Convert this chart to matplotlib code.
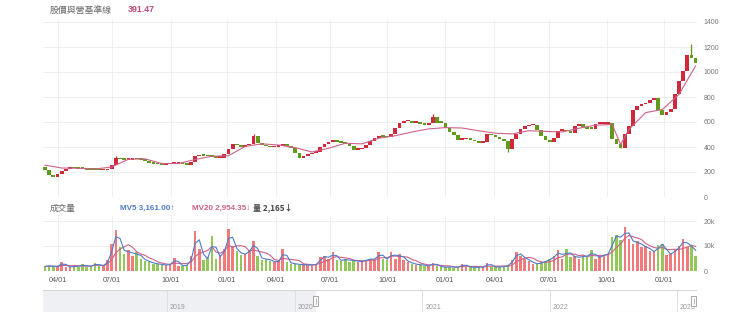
"""Candlestick price + volume panel with a range navigator strip (Mar 2020 - Feb 2023)."""

import matplotlib.pyplot as plt
import matplotlib.dates as mdates
import numpy as np
import pandas as pd
from matplotlib.patches import Rectangle

close = [
    220, 180, 165, 185, 210, 230, 236, 234, 230, 228,
    224, 222, 220, 218, 218, 228, 262, 320, 306, 300,
    302, 308, 306, 300, 296, 278, 270, 266, 264, 266,
    268, 270, 272, 266, 264, 286, 330, 340, 336, 330,
    328, 320, 320, 345, 390, 432, 418, 408, 418, 432,
    496, 440, 418, 410, 402, 405, 415, 432, 410, 395,
    360, 320, 335, 346, 355, 365, 405, 428, 445, 448,
    444, 440, 430, 410, 380, 385, 395, 420, 450, 475,
    495, 488, 482, 512, 560, 600, 610, 612, 596, 608,
    585, 580, 600, 645, 600, 595, 560, 522, 500, 460,
    466, 472, 462, 450, 440, 445, 512, 498, 485, 470,
    452, 390, 472, 510, 545, 570, 578, 584, 540, 490,
    458, 445, 480, 536, 536, 530, 520, 570, 585, 562,
    550, 548, 592, 592, 592, 598, 470, 430, 400, 510,
    570, 700, 730, 745, 760, 780, 800, 700, 660, 685,
    712, 830, 930, 1010, 1140, 1120, 1080,
]
first_open = 245
# notable wick extremes (bar index -> price)
wick_extremes = {17: 328, 50: 505, 93: 662, 111: 362, 138: 392, 155: 1225}

# pink baseline line, sampled every few bars
baseline_idx = [0, 4, 8, 12, 16, 20, 24, 28, 32, 36, 40, 44, 48, 52, 56, 60, 64,
                68, 72, 76, 80, 84, 88, 92, 96, 100, 104, 108, 112, 116, 120, 124,
                128, 132, 136, 138, 140, 144, 148, 152, 156]
baseline = [255, 232, 230, 224, 240, 302, 305, 268, 268, 300, 326, 330, 405, 425,
            416, 395, 360, 390, 430, 425, 470, 490, 520, 545, 555, 552, 530, 510,
            505, 530, 525, 520, 550, 575, 580, 420, 540, 675, 700, 820, 1050]

# volume in thousands of shares
volume_k = [
    1.8, 2.2, 1.6, 2.0, 3.5, 1.8, 1.5, 2.1, 1.7, 2.8,
    1.6, 2.0, 3.2, 1.9, 2.4, 4.5, 11.0, 16.5, 9.5, 7.0,
    8.5, 6.0, 7.5, 5.0, 4.2, 3.5, 3.0, 2.8, 2.5, 2.3,
    2.8, 5.4, 2.2, 2.0, 2.4, 6.0, 16.0, 9.0, 4.5, 5.5,
    14.0, 5.0, 6.5, 9.0, 17.0, 10.0, 8.0, 6.5, 7.0, 8.5,
    12.0, 6.0, 4.5, 5.0, 4.0, 3.5, 4.0, 9.0, 3.5, 3.0,
    2.8, 2.5, 2.6, 2.4, 2.2, 3.0, 5.5, 6.0, 5.0, 7.7,
    4.5, 4.0, 5.0, 3.8, 4.5, 3.5, 4.0, 4.5, 5.0, 4.5,
    7.7, 5.0, 4.5, 7.7, 5.0, 7.0, 4.5, 3.5, 3.0, 2.5,
    2.5, 2.2, 2.0, 3.3, 2.0, 1.6, 1.5, 1.8, 1.4, 1.6,
    2.8, 1.8, 1.5, 1.4, 1.6, 1.5, 3.3, 1.8, 1.5, 1.7,
    1.8, 2.5, 4.5, 7.7, 6.0, 5.0, 4.0, 3.0, 2.8, 3.5,
    4.0, 5.0, 6.0, 8.3, 5.0, 9.0, 5.5, 6.0, 5.0, 6.5,
    5.5, 8.3, 5.0, 6.0, 6.5, 7.0, 13.5, 14.5, 12.5, 17.5,
    13.0, 11.0, 12.0, 9.5, 10.0, 8.0, 7.5, 10.5, 11.0, 6.5,
    7.0, 8.5, 10.0, 13.0, 9.5, 10.5, 6.0,
]

tick_dates = ["2020-04-01", "2020-07-01", "2020-10-01", "2021-01-01", "2021-04-01",
              "2021-07-01", "2021-10-01", "2022-01-01", "2022-04-01", "2022-07-01",
              "2022-10-01", "2023-01-01"]
nav_years = ["2019", "2020", "2021", "2022", "2023"]

# TWSE closures, so the x axis runs on trading days like the original
holidays = [
    "2020-04-02", "2020-04-03", "2020-05-01", "2020-06-25", "2020-06-26",
    "2020-10-01", "2020-10-02", "2020-10-09",
    "2021-01-01", "2021-02-08", "2021-02-09", "2021-02-10", "2021-02-11",
    "2021-02-12", "2021-02-15", "2021-02-16", "2021-03-01", "2021-04-02",
    "2021-04-05", "2021-04-30", "2021-06-14", "2021-09-20", "2021-09-21",
    "2021-10-11", "2021-12-31",
    "2022-01-27", "2022-01-28", "2022-01-31", "2022-02-01", "2022-02-02",
    "2022-02-03", "2022-02-04", "2022-02-28", "2022-04-04", "2022-04-05",
    "2022-05-02", "2022-06-03", "2022-09-09", "2022-10-10",
    "2023-01-02", "2023-01-18", "2023-01-19", "2023-01-20", "2023-01-23",
    "2023-01-24", "2023-01-25", "2023-01-26", "2023-01-27", "2023-02-27",
    "2023-02-28",
]
START = "2020-03-02"

RED, GREEN = "#cf2a3c", "#5f9a1c"
VRED, VGREEN = "#f07a7c", "#92c85a"
PINK, BLUE = "#d0608a", "#4d7cc9"
GRID = "#ededed"

plt.rcParams["font.family"] = ["Liberation Sans", "DejaVu Sans"]
CJK = ["Noto Sans CJK TC", "Liberation Sans", "DejaVu Sans"]


def tpos(d):
    return np.busday_count(START, d, holidays=holidays)


W, H = 740, 324
fig = plt.figure(figsize=(W / 100, H / 100), dpi=100)


def box(x0, y0, x1, y1):
    return [x0 / W, 1 - y1 / H, (x1 - x0) / W, (y1 - y0) / H]


ax_p = fig.add_axes(box(43, 20, 697, 197))
ax_v = fig.add_axes(box(43, 215, 697, 271), sharex=ax_p)
ax_n = fig.add_axes(box(43, 290, 697, 312))

close = np.array(close, dtype=float)
n = len(close)
x_left, x_right = tpos("2020-03-09"), tpos("2023-03-09")
xs = np.linspace(x_left + 2.2, x_right - 1.5, n)
step = xs[1] - xs[0]
opens = np.r_[first_open, close[:-1]]
up = close >= opens

# candles
lo = np.minimum(opens, close)
hi = np.maximum(opens, close)
ax_p.bar(xs, np.maximum(hi - lo, 14), bottom=lo - 4, width=step * 0.9,
         color=np.where(up, RED, GREEN), linewidth=0, zorder=3)
for i, v in wick_extremes.items():
    ax_p.vlines(xs[i], min(lo[i], v), max(hi[i], v), color=RED if up[i] else GREEN,
                lw=0.9, zorder=3)
ax_p.plot(xs[baseline_idx], baseline, color=PINK, lw=0.8, zorder=4)

ax_p.set_ylim(0, 1416)
ax_p.set_yticks(np.arange(0, 1401, 200))
ax_p.yaxis.tick_right()
ax_p.set_xlim(x_left, x_right)
ticks = [tpos(d) for d in tick_dates]
ax_p.set_xticks(ticks)
ax_p.tick_params(axis="x", labelbottom=False, length=0)
ax_p.tick_params(axis="y", length=0, pad=5, labelsize=5, labelcolor="#777")

# volume
vol = pd.Series(volume_k)
ax_v.bar(xs, vol, width=step * 0.6, color=np.where(up, VRED, VGREEN), linewidth=0,
         zorder=3)
ax_v.plot(xs, vol.rolling(5, min_periods=1).mean(), color=PINK, lw=0.8, zorder=4)
ax_v.plot(xs, vol.rolling(2, min_periods=1).mean(), color=BLUE, lw=0.8, zorder=5)
ax_v.set_ylim(0, 22.4)
ax_v.set_yticks([0, 10, 20])
ax_v.set_yticklabels(["0", "10k", "20k"])
ax_v.yaxis.tick_right()
ax_v.set_xticklabels([pd.Timestamp(d).strftime("%m/%d") for d in tick_dates])
ax_v.tick_params(axis="x", length=0, pad=4, labelsize=5.2, labelcolor="#555")
ax_v.tick_params(axis="y", length=0, pad=5, labelsize=5, labelcolor="#777")

for ax in (ax_p, ax_v):
    ax.grid(color=GRID, lw=0.6)
    ax.set_axisbelow(True)
    for s in ax.spines.values():
        s.set_visible(False)

# navigator
nl, nr = mdates.datestr2num("2018-01-10"), mdates.datestr2num("2023-02-27")
ns = mdates.datestr2num(START)
ax_n.set_xlim(nl, nr)
ax_n.set_ylim(0, 1)
ax_n.axvspan(nl, ns, color="#eef0f4", lw=0, zorder=0)
ax_n.axhline(1, color="#d6d6d6", lw=0.8)
ax_n.hlines(0, ns, nr, color="#d6d6d6", lw=0.8)
for yr in nav_years:
    xv = mdates.datestr2num(f"{yr}-01-01")
    ax_n.axvline(xv, color="#dcdcdc", lw=0.6, zorder=1)
    ax_n.text(xv + 8, 0.2, yr, fontsize=5, color="#999", va="center", ha="left")
dpp = (nr - nl) / 654
for hx in (ns, nr - 3 * dpp):
    ax_n.add_patch(Rectangle((hx - 2.5 * dpp, 0.27), 5 * dpp, 0.46, facecolor="white",
                             edgecolor="#999", lw=0.6, zorder=5))
    ax_n.vlines(hx, 0.38, 0.62, color="#999", lw=0.5, zorder=6)
ax_n.axis("off")


def ftext(x, y, s, **kw):
    fig.text(x / W, 1 - y / H, s, va="center", ha="left", **kw)


ftext(50, 10, "股價與營基準線", fontsize=6.4, color="#666", family=CJK)
ftext(128, 10, "391.47", fontsize=6.4, color="#c2497a", fontweight="bold")
ftext(50, 208, "成交量", fontsize=6.2, color="#666", family=CJK)
ftext(120, 208, "MV5 3,161.00↑", fontsize=5.8, color=BLUE, fontweight="bold")
ftext(192, 208, "MV20 2,954.35↓", fontsize=5.8, color=PINK, fontweight="bold")
ftext(253, 208, "量 2,165↓", fontsize=5.8, color="#444", fontweight="bold", family=CJK)

fig.savefig("out.png", dpi=100)
